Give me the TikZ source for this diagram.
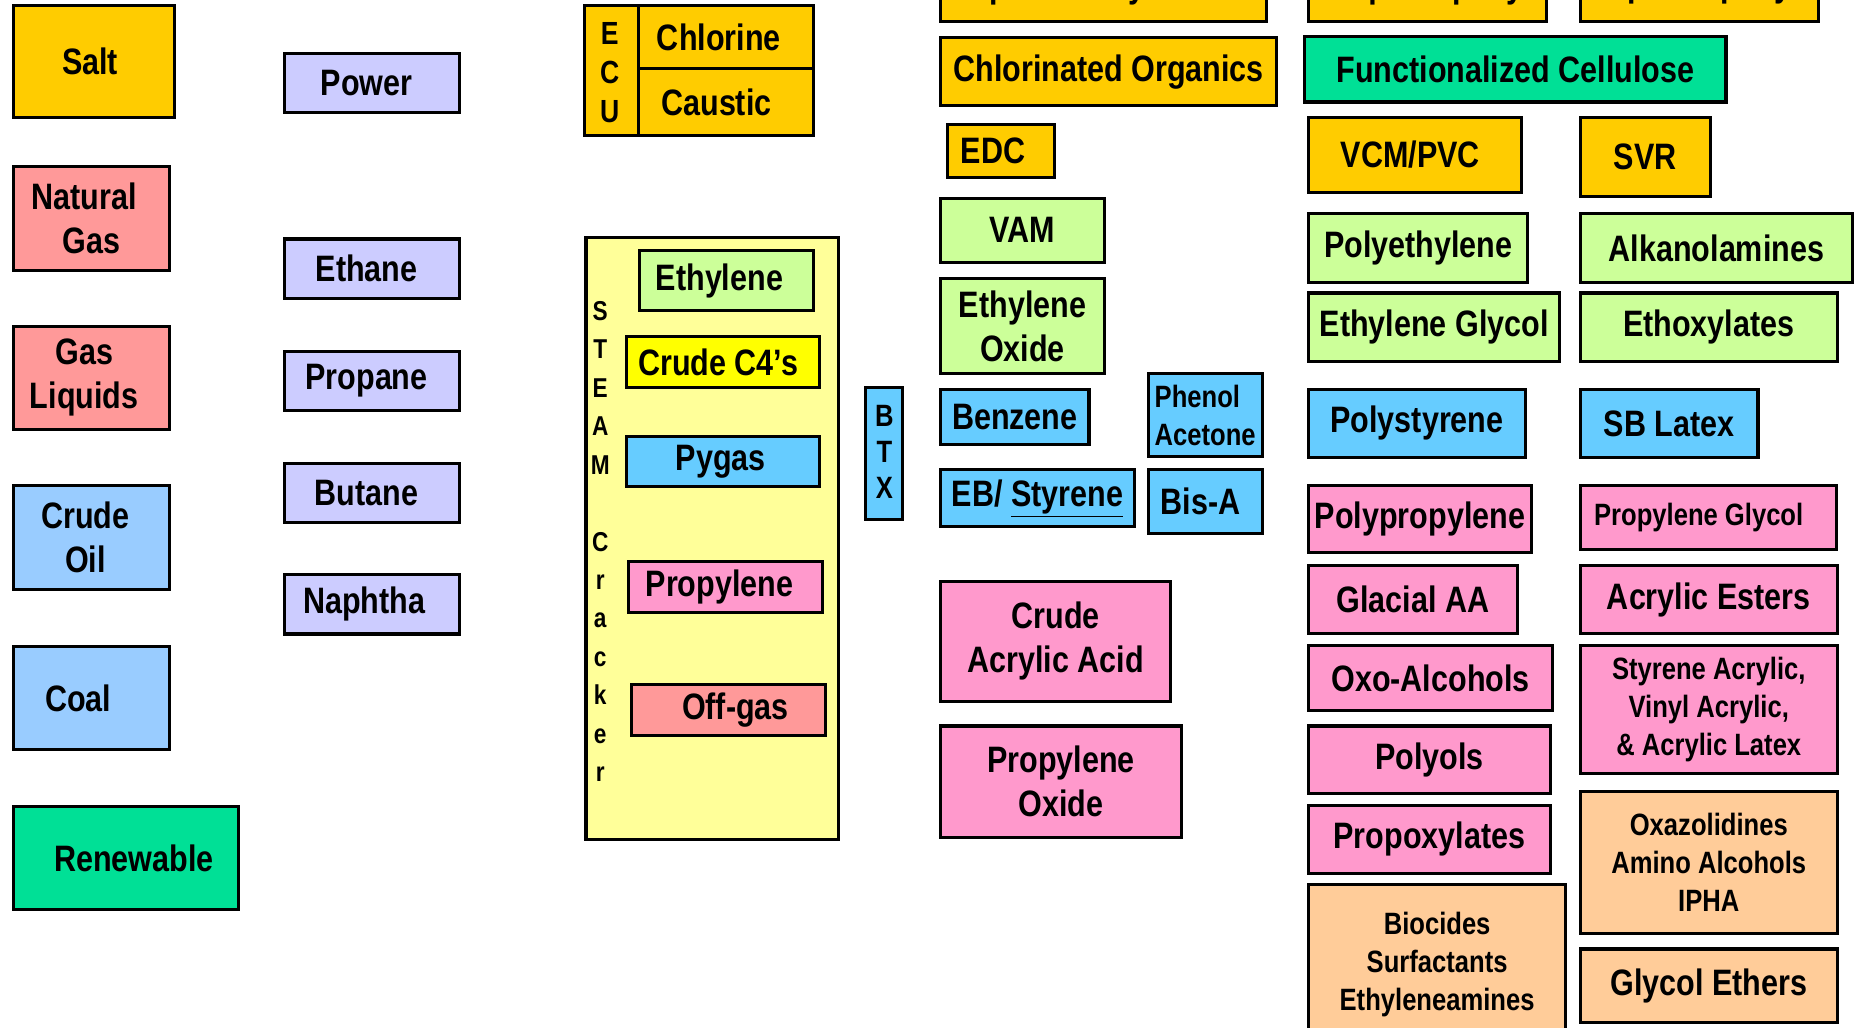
\documentclass[tikz,border=0pt]{standalone}
\usepackage{fontspec}
\setmainfont{Liberation Sans}[FakeStretch=0.83]
\usepackage{tikz}

\definecolor{gold}{HTML}{FFCC00}
\definecolor{salmon}{HTML}{FF9999}
\definecolor{skyblue}{HTML}{99CCFF}
\definecolor{renewgreen}{HTML}{00E096}
\definecolor{lavender}{HTML}{CCCCFF}
\definecolor{paleyellow}{HTML}{FFFF99}
\definecolor{lightgreen}{HTML}{CCFF99}
\definecolor{brightyellow}{HTML}{FFFF00}
\definecolor{aqua}{HTML}{66CCFF}
\definecolor{pinkish}{HTML}{FF99CC}
\definecolor{peach}{HTML}{FFCC99}

\newcommand{\bigtxt}{\fontsize{31}{37}\selectfont\bfseries}
\newcommand{\smalltxt}{\fontsize{26}{32}\selectfont\bfseries}

\tikzset{
  chem/.style={draw, line width=2.6pt, inner sep=0pt, align=center, font=\bigtxt},
  sz/.style 2 args={minimum width=#1pt, minimum height=#2pt},
  letters/.style={inner sep=0pt, align=center, font=#1}
}

\begin{document}
\begin{tikzpicture}[x=1pt,y=-1pt]
  \useasboundingbox (0,0) rectangle (1568,866);
  \clip (0,0) rectangle (1568,866);

  \node[chem, fill=gold, sz={136}{94}] (salt) at (79,52) {Salt\hspace*{6pt}};
  \node[chem, fill=salmon, sz={132}{88}] (natgas) at (77,184) {Natural\hspace*{12pt}\\Gas};
  \node[chem, fill=salmon, sz={132}{87}] (gasliq) at (77,318.5) {Gas\hspace*{12pt}\\Liquids\hspace*{12pt}};
  \node[chem, fill=skyblue, sz={132}{88}] (crude) at (77,453) {Crude\hspace*{10pt}\\Oil\hspace*{10pt}};
  \node[chem, fill=skyblue, sz={132}{87}] (coal) at (77,588.5) {Coal\hspace*{22pt}};
  \node[chem, fill=renewgreen, sz={190}{87}] (renew) at (106,723.5) {\hspace*{14pt}Renewable};

  \foreach \y/\n/\t in {70/power/Power, 226.5/ethane/Ethane, 321/propane/Propane,
                        415.5/butane/Butane, 509.5/naphtha/Naphtha\hspace*{4pt}}
    {\node[chem, fill=lavender, sz={147}{50}] (\n) at (313.5,\y) {\t\hspace*{9pt}};}

  \node[chem, fill=gold, sz={45}{109}] (ecu) at (515.5,59.5) {};
  \node[letters={\fontsize{27}{33}\selectfont\bfseries}] (ecutxt) at (514,61) {E\\C\\U};
  \node[chem, fill=gold, sz={148}{53}] (chlorine) at (612,31.5) {Chlorine\hspace*{12pt}};
  \node[chem, fill=gold, sz={148}{56}] (caustic) at (612,86) {Caustic\hspace*{16pt}};

  \node[chem, fill=paleyellow, sz={213}{508}] (cracker) at (600.5,454) {};
  \node[letters={\fontsize{23}{32.4}\selectfont\bfseries}] (steamtxt) at (506,456.5)
    {S\\T\\E\\A\\M\\ \\C\\r\\a\\c\\k\\e\\r};
  \node[chem, fill=lightgreen, sz={147}{51}] (ethylene) at (612.5,236.5) {Ethylene\hspace*{12pt}};
  \node[chem, fill=brightyellow, sz={163}{43}] (cfour) at (609.5,305.5) {Crude C4’s\hspace*{8pt}};
  \node[chem, fill=aqua, sz={163}{42}] (pygas) at (609.5,389) {Pygas\hspace*{4pt}};
  \node[chem, fill=pinkish, sz={163}{43}] (propylene) at (611.5,494.5) {Propylene\hspace*{10pt}};
  \node[chem, fill=salmon, sz={164}{43}] (offgas) at (614,598.5) {\hspace*{12pt}Off-gas};

  \node[chem, fill=aqua, sz={31}{111}] (btx) at (745.5,382.5) {};
  \node[letters={\fontsize{26}{30}\selectfont\bfseries}] (btxtxt) at (745.5,381) {B\\T\\X};

  \node[chem, fill=gold, sz={275}{57}] (epi) at (930.5,-10.5) {Epichlorohydrin\hspace*{30pt}};
  \node[chem, fill=gold, sz={283}{57}] (chlorg) at (934.5,60.5) {Chlorinated Organics};
  \node[chem, fill=gold, sz={90}{45}] (edc) at (844,127.5) {EDC\hspace*{14pt}};
  \node[chem, fill=lightgreen, sz={138}{54}] (vam) at (862,194) {VAM};
  \node[chem, fill=lightgreen, sz={138}{80}] (eo) at (862,275) {Ethylene\\Oxide};
  \node[chem, fill=aqua, sz={125}{47}] (benzene) at (855.5,351.5) {Benzene};
  \node[chem, fill=aqua, sz={96}{70}, align=left, font=\smalltxt] (phenol) at (1016,350) {Phenol\\Acetone};
  \node[chem, fill=aqua, sz={163}{48}] (ebsty) at (874.5,420) {EB/ \underline{Styrene}};
  \node[chem, fill=aqua, sz={96}{54}] (bisa) at (1016,423) {Bis-A\hspace*{8pt}};
  \node[chem, fill=pinkish, sz={194}{101}] (crudeaa) at (890,540.5) {Crude\\Acrylic Acid};
  \node[chem, fill=pinkish, sz={203}{94}] (propox) at (894.5,659) {Propylene\\Oxide};

  \node[chem, fill=gold, sz={201}{57}] (liqepoxy) at (1203.5,-10.5) {Liquid Epoxy};
  \node[chem, fill=renewgreen, sz={355}{55}] (fcell) at (1277.5,58.5) {Functionalized Cellulose};
  \node[chem, fill=gold, sz={180}{63}] (vcm) at (1193,130.5) {VCM/PVC\hspace*{8pt}};
  \node[chem, fill=lightgreen, sz={185}{58}] (pe) at (1195.5,209) {Polyethylene};
  \node[chem, fill=lightgreen, sz={212}{58}] (eg) at (1209,276) {Ethylene Glycol};
  \node[chem, fill=aqua, sz={183}{58}] (ps) at (1194.5,357) {Polystyrene};
  \node[chem, fill=pinkish, sz={188}{57}] (pp) at (1197,437.5) {Polypropylene};
  \node[chem, fill=pinkish, sz={176}{57}] (gaa) at (1191,505.5) {Glacial AA};
  \node[chem, fill=pinkish, sz={206}{55}] (oxo) at (1206,571.5) {Oxo-Alcohols};
  \node[chem, fill=pinkish, sz={204}{57}] (polyols) at (1205,640.5) {Polyols};
  \node[chem, fill=pinkish, sz={204}{57}] (propoxyl) at (1205,707.5) {Propoxylates};
  \node[chem, fill=peach, sz={217}{134}, font=\smalltxt] (biocides) at (1211.5,813)
    {Biocides\\Surfactants\\Ethyleneamines};

  \node[chem, fill=gold, sz={201}{57}] (specepoxy) at (1432.5,-10.5) {Spec. Epoxy};
  \node[chem, fill=gold, sz={110}{67}] (svr) at (1387,132.5) {SVR};
  \node[chem, fill=lightgreen, sz={230}{58}] (alkanol) at (1447,209) {Alkanolamines};
  \node[chem, fill=lightgreen, sz={217}{58}] (ethox) at (1440.5,276) {Ethoxylates};
  \node[chem, fill=aqua, sz={150}{58}] (sblatex) at (1407,357) {SB Latex};
  \node[chem, fill=pinkish, sz={216}{54}, font=\smalltxt] (pg) at (1440,436) {Propylene Glycol\hspace*{16pt}};
  \node[chem, fill=pinkish, sz={217}{57}] (acrest) at (1440.5,505.5) {Acrylic Esters};
  \node[chem, fill=pinkish, sz={217}{108}, font=\smalltxt] (latex) at (1440.5,598)
    {Styrene Acrylic,\\Vinyl Acrylic,\\\& Acrylic Latex};
  \node[chem, fill=peach, sz={217}{120}, font=\smalltxt] (oxaz) at (1440.5,727)
    {Oxazolidines\\Amino Alcohols\\IPHA};
  \node[chem, fill=peach, sz={217}{62}] (glyeth) at (1440.5,831) {Glycol Ethers};
\end{tikzpicture}
\end{document}
